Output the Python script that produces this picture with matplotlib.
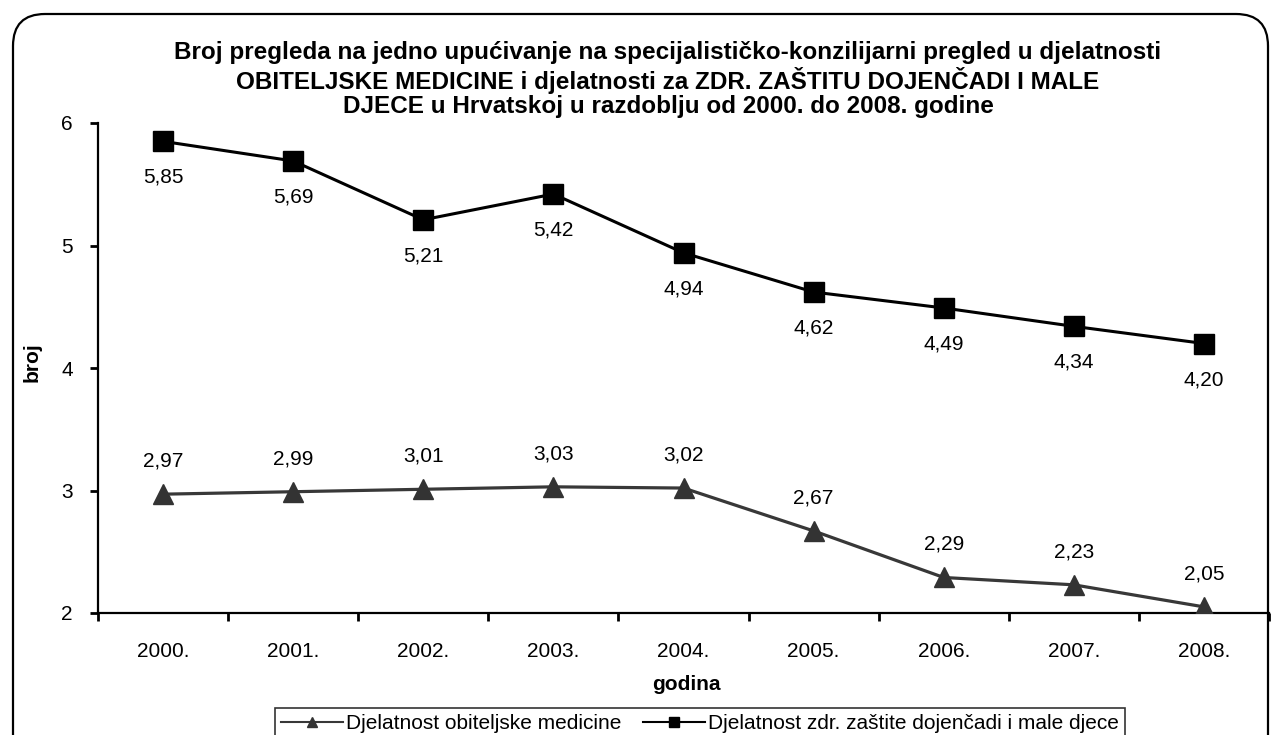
import matplotlib
matplotlib.use("Agg")
import matplotlib.pyplot as plt
from matplotlib.patches import FancyBboxPatch
from matplotlib.lines import Line2D

years = ["2000.", "2001.", "2002.", "2003.", "2004.", "2005.", "2006.", "2007.", "2008."]
obiteljska = [2.97, 2.99, 3.01, 3.03, 3.02, 2.67, 2.29, 2.23, 2.05]
dojencad = [5.85, 5.69, 5.21, 5.42, 4.94, 4.62, 4.49, 4.34, 4.20]
series_names = ["Djelatnost obiteljske medicine", "Djelatnost zdr. zaštite dojenčadi i male djece"]
title = ("Broj pregleda na jedno upućivanje na specijalističko-konzilijarni pregled u djelatnosti\n"
         "OBITELJSKE MEDICINE i djelatnosti za ZDR. ZAŠTITU DOJENČADI I MALE\n"
         "DJECE u Hrvatskoj u razdoblju od 2000. do 2008. godine")

plt.rcParams['font.family'] = ['Liberation Sans', 'DejaVu Sans']

W, H = 1271, 735
fig = plt.figure(figsize=(W / 100, H / 100), dpi=100)
ax = fig.add_axes([98 / W, 1 - 613 / H, (1269 - 98) / W, (613 - 123) / H])

x = list(range(len(years)))
ax.plot(x, obiteljska, color='#383838', lw=2.3, marker='^', ms=14, mfc='#333333', mec='#333333', zorder=3)
ax.plot(x, dojencad, color='black', lw=2.2, marker='s', ms=15, mfc='black', mec='black', zorder=3)

for xi, v in zip(x, obiteljska):
    ax.annotate(f"{v:.2f}".replace('.', ','), (xi, v), xytext=(0, 33), textcoords='offset pixels',
                ha='center', va='center', fontsize=15)
for xi, v in zip(x, dojencad):
    ax.annotate(f"{v:.2f}".replace('.', ','), (xi, v), xytext=(0, -36), textcoords='offset pixels',
                ha='center', va='center', fontsize=15)

ax.set_xlim(-0.5, len(years) - 0.5)
ax.set_ylim(2, 6)
ax.set_yticks([2, 3, 4, 5, 6])
ax.set_yticklabels(["2", "3", "4", "5", "6"], fontsize=15)
ax.set_xticks(x)
ax.set_xticklabels(years, fontsize=15)
ax.set_xticks([i - 0.5 for i in range(len(years) + 1)], minor=True)
ax.tick_params(axis='x', which='major', length=0, pad=21)
ax.tick_params(axis='x', which='minor', length=6, width=2, direction='out')
ax.tick_params(axis='y', length=6, width=2, direction='out', pad=12)
for s in ['top', 'right']:
    ax.spines[s].set_visible(False)
for s in ['left', 'bottom']:
    ax.spines[s].set_linewidth(1.6)

fig.text(32 / W, 1 - 362 / H, "broj", rotation=90, ha='center', va='center', fontsize=15, fontweight='bold')
fig.text(686 / W, 1 - 685 / H, "godina", ha='center', va='center', fontsize=15, fontweight='bold')
fig.text(668 / W, 1 - 80 / H, title, ha='center', va='center', fontsize=17.5, fontweight='bold', linespacing=1.1)

handles = [Line2D([], [], color='#383838', lw=1.5, marker='^', ms=7, mfc='#333333', mec='#333333'),
           Line2D([], [], color='black', lw=1.5, marker='s', ms=6.5, mfc='black', mec='black')]
leg = fig.legend(handles, series_names, loc='upper center', bbox_to_anchor=(700 / W, 1 - 708 / H),
                 ncol=2, frameon=True, fancybox=False, edgecolor='black', fontsize=15,
                 handlelength=3.0, handletextpad=0.15, columnspacing=1.0, borderpad=0.3,
                 borderaxespad=0)
leg.get_frame().set_linewidth(1.2)

border = FancyBboxPatch((0.13, -0.5), 12.55, 7.21 + 0.5, boxstyle="round,pad=0,rounding_size=0.32",
                        transform=fig.dpi_scale_trans, fill=False, edgecolor='black', lw=1.6, clip_on=False)
fig.patches.append(border)

fig.savefig("out.png", dpi=100)
